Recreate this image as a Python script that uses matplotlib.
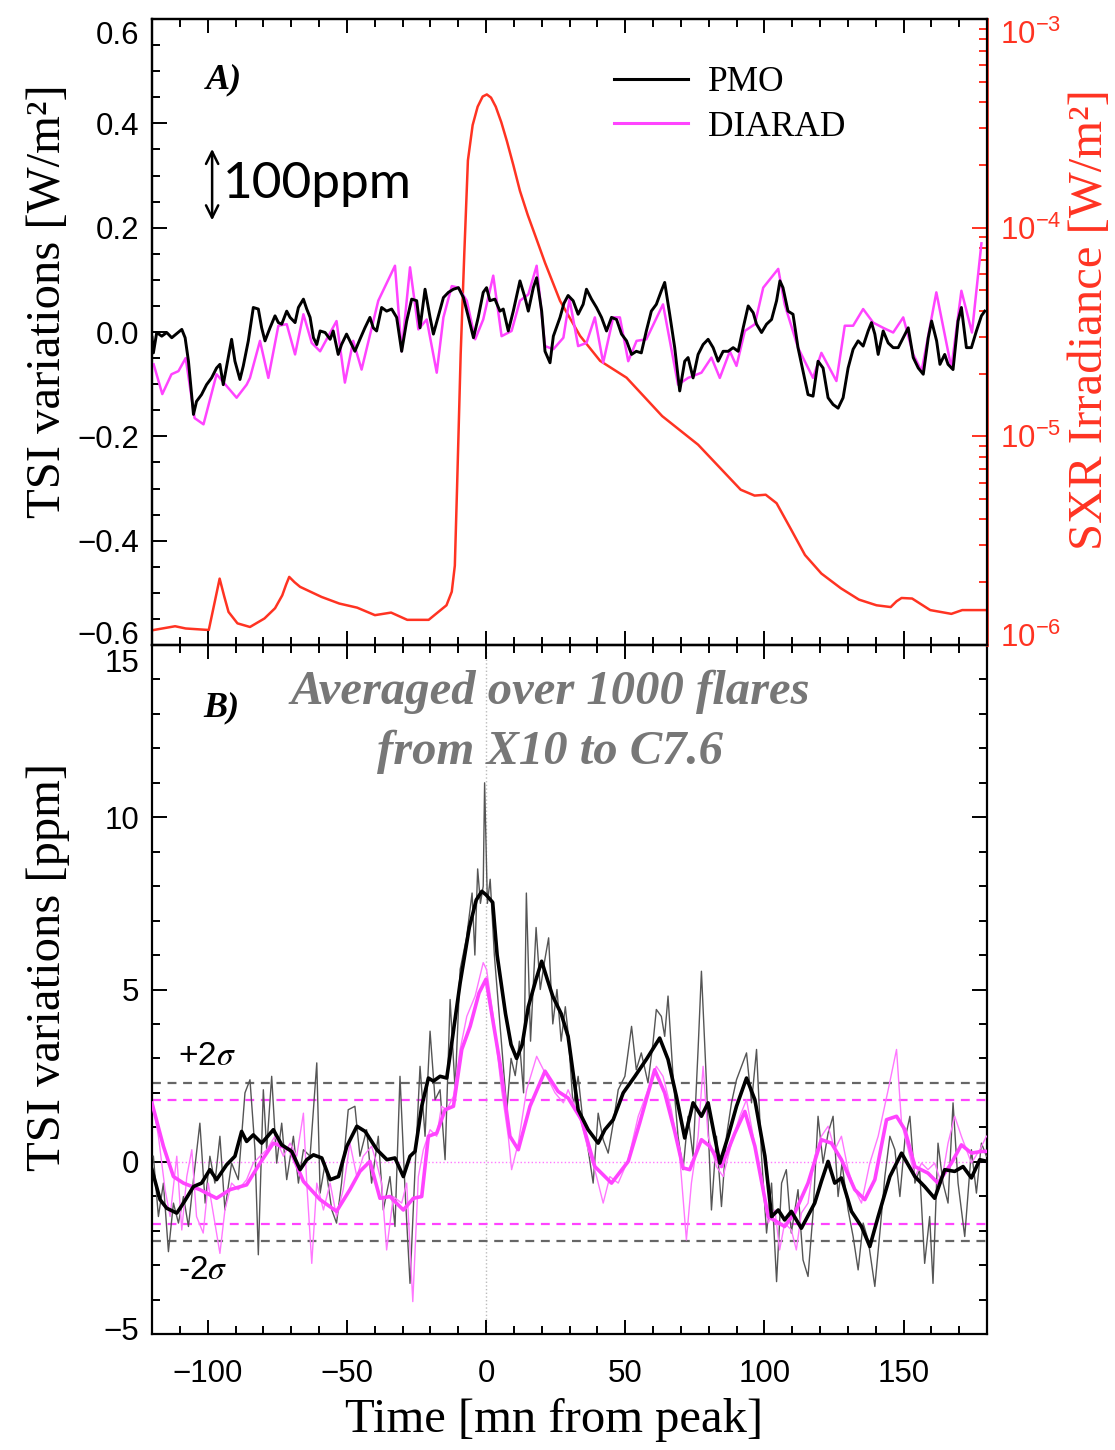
import matplotlib
matplotlib.use("Agg")
import matplotlib.pyplot as plt
import matplotlib.transforms as mtransforms
from matplotlib.ticker import MultipleLocator, LogLocator, NullFormatter, FuncFormatter
import numpy as np

plt.rcParams['font.family'] = ['Liberation Sans', 'DejaVu Sans']
plt.rcParams['mathtext.fontset'] = 'stix'

# ---------------- Panel A data ----------------
pmo_top_t = [-120, -119.5, -118.3, -116.5, -114.7, -112.9, -111.1, -109.3, -108.1, -106.9,
             -105.1, -104.0, -102.2, -100.4, -98.6, -96.8, -95.6, -94.4, -92.6, -91.4,
             -90.2, -88.4, -87.2, -85.4, -83.6, -81.8, -80.6, -79.4, -77.6, -75.8,
             -74.6, -73.4, -71.6, -70.4, -68.6, -67.4, -65.6, -64.4, -63.2, -62.0,
             -60.8, -59.6, -57.8, -56.0, -54.9, -53.1, -51.9, -50.1, -48.9, -47.1,
             -45.3, -43.5, -41.7, -40.5, -39.3, -37.5, -35.7, -33.9, -32.1, -30.3,
             -28.5, -26.7, -24.9, -23.7, -21.9, -20.1, -18.9, -17.1, -15.3, -13.5,
             -11.7, -9.9, -8.1, -6.3, -4.5, -2.8, -1.0, 0.2, 1.4, 3.2,
             5.0, 6.2, 8.0, 9.8, 12.2, 14.0, 15.2, 17.0, 18.2, 20.0,
             21.2, 23.0, 24.2, 26.6, 28.0, 29.5, 31.3, 33.1, 34.9, 36.1,
             37.9, 39.7, 41.5, 43.3, 45.1, 46.9, 48.7, 50.5, 52.3, 54.0,
             55.8, 57.6, 59.4, 61.2, 63.0, 64.2, 66.0, 67.8, 69.6, 71.4,
             72.6, 74.4, 76.2, 78.0, 79.8, 81.6, 83.4, 85.2, 87.0, 88.8,
             90.6, 92.4, 94.2, 96.0, 97.2, 99.0, 100.8, 102.6, 104.4, 105.6,
             106.7, 108.5, 110.3, 112.1, 113.9, 115.7, 117.5, 119.3, 121.1, 122.9,
             124.7, 126.5, 128.3, 130.1, 131.9, 133.7, 135.5, 137.3, 138.5, 139.7,
             140.9, 142.7, 144.5, 146.3, 148.1, 149.9, 151.7, 153.5, 155.3, 157.1,
             158.9, 160.1, 161.9, 163.1, 164.8, 166.0, 167.8, 169.6, 170.8, 172.6,
             174.4, 176.2, 178.0, 179.2]
pmo_top_v = [-0.010, -0.040, -0.001, -0.008, -0.001, -0.011, -0.003, 0.005, -0.011, -0.056,
             -0.158, -0.133, -0.120, -0.101, -0.088, -0.069, -0.062, -0.101, -0.049, -0.014,
             -0.056, -0.091, -0.065, -0.017, 0.047, 0.044, 0.008, -0.017, 0.008, 0.031,
             0.018, 0.015, 0.040, 0.028, 0.018, 0.047, 0.063, 0.044, 0.028, -0.011,
             -0.024, 0.002, -0.001, -0.014, 0.002, -0.043, -0.024, -0.004, -0.017, -0.037,
             -0.014, 0.008, 0.028, 0.008, 0.002, 0.047, 0.040, 0.044, 0.028, -0.037,
             0.021, 0.063, 0.060, 0.008, 0.082, 0.028, -0.004, 0.031, 0.066, 0.076,
             0.082, 0.085, 0.066, 0.028, -0.011, 0.028, 0.076, 0.085, 0.060, 0.063,
             0.040, 0.044, 0.002, 0.040, 0.098, 0.066, 0.040, 0.085, 0.104, 0.040,
             -0.037, -0.059, -0.008, 0.028, 0.055, 0.070, 0.060, 0.034, 0.053, 0.082,
             0.063, 0.047, 0.028, 0.002, 0.028, 0.024, -0.004, -0.017, -0.043, -0.037,
             -0.040, 0.002, 0.040, 0.053, 0.079, 0.095, 0.034, -0.030, -0.113, -0.056,
             -0.049, -0.088, -0.043, -0.024, -0.014, -0.030, -0.056, -0.037, -0.037, -0.030,
             -0.037, 0.008, 0.050, 0.037, 0.015, -0.001, 0.015, 0.024, 0.060, 0.098,
             0.085, 0.040, 0.034, -0.030, -0.075, -0.120, -0.123, -0.056, -0.069, -0.126,
             -0.139, -0.146, -0.126, -0.069, -0.033, -0.017, -0.027, 0.002, 0.018, -0.004,
             -0.043, 0.002, -0.021, -0.030, -0.030, -0.011, 0.008, -0.049, -0.069, -0.081,
             -0.011, 0.021, -0.017, -0.062, -0.043, -0.062, -0.072, 0.021, 0.047, -0.030,
             -0.030, 0.002, 0.031, 0.040]

diarad_top_t = [-119.4, -116.3, -113.0, -110.5, -107.9, -104.7, -101.5, -96.8, -89.6, -86.0,
                -84.8, -81.2, -78.2, -74.6, -71.6, -68.6, -65.6, -62.6, -59.6, -53.7,
                -50.7, -47.7, -44.7, -38.7, -32.7, -30.3, -27.3, -24.3, -21.3, -17.7,
                -15.3, -12.3, -9.9, -6.9, -3.9, -1.0, 2.6, 5.6, 9.2, 12.2,
                15.2, 18.2, 21.2, 24.2, 27.8, 30.0, 33.1, 36.1, 39.1, 42.1,
                45.7, 48.1, 51.1, 54.1, 57.6, 63.6, 69.0, 72.6, 77.4, 81.0,
                84.0, 87.6, 90.0, 93.0, 96.6, 99.6, 105.0, 107.3, 112.1, 117.5,
                120.5, 125.9, 128.9, 131.9, 135.5, 139.1, 142.7, 146.3, 149.9, 153.5,
                156.5, 161.8, 167.2, 170.8, 174.6, 178.0]
diarad_top_v = [-0.062, -0.119, -0.081, -0.075, -0.050, -0.165, -0.177, -0.081, -0.126, -0.101,
                -0.088, -0.017, -0.088, 0.012, 0.015, -0.043, 0.034, -0.021, -0.037, 0.021,
                -0.097, -0.017, -0.072, 0.060, 0.127, -0.037, 0.124, 0.005, 0.024, -0.078,
                0.028, 0.088, 0.085, 0.060, -0.014, 0.024, 0.108, -0.008, 0.002, 0.060,
                0.072, 0.127, -0.027, -0.033, -0.011, 0.063, -0.027, -0.021, 0.028, -0.059,
                0.028, 0.028, -0.056, -0.017, -0.014, 0.053, -0.101, -0.088, -0.078, -0.049,
                -0.088, -0.037, -0.065, 0.002, 0.015, 0.085, 0.121, 0.053, -0.030, -0.088,
                -0.040, -0.094, 0.012, 0.012, 0.044, 0.018, 0.008, -0.001, 0.028, -0.043,
                -0.075, 0.076, -0.069, 0.079, -0.001, 0.170]

sxr_t = [-119.4, -111.7, -107.9, -99.6, -97.5, -95.7, -94.0, -92.5, -89.3, -84.8,
         -79.6, -75.8, -73.2, -71.8, -70.7, -68.8, -66.8, -59.1, -52.7, -46.3,
         -39.9, -34.1, -28.3, -20.6, -14.2, -12.3, -11.2, -10.4, -9.1, -7.8,
         -6.5, -4.8, -3.0, -1.2, 0.3, 1.8, 3.5, 5.5, 7.5, 9.8,
         12.2, 15.0, 17.9, 21.2, 26.6, 33.8, 41.0, 50.5, 63.3, 76.2,
         91.5, 96.5, 100.5, 104.4, 109.5, 114.6, 120.5, 127.5, 134.0, 140.3,
         145.4, 147.5, 149.3, 153.1, 159.6, 167.2, 171.1, 178.1, 180.0]
sxr_v = [1.18e-6, 1.23e-6, 1.20e-6, 1.18e-6, 1.60e-6, 2.08e-6, 1.70e-6, 1.44e-6, 1.27e-6, 1.22e-6,
         1.34e-6, 1.50e-6, 1.73e-6, 1.95e-6, 2.12e-6, 2.00e-6, 1.90e-6, 1.70e-6, 1.58e-6, 1.51e-6,
         1.39e-6, 1.43e-6, 1.32e-6, 1.32e-6, 1.55e-6, 1.80e-6, 2.40e-6, 5.65e-6, 2.48e-5, 7.50e-5,
         2.10e-4, 3.10e-4, 3.80e-4, 4.25e-4, 4.35e-4, 4.20e-4, 3.80e-4, 3.20e-4, 2.60e-4, 2.00e-4,
         1.50e-4, 1.15e-4, 9.00e-5, 6.79e-5, 4.46e-5, 3.03e-5, 2.30e-5, 1.91e-5, 1.25e-5, 9.12e-6,
         5.55e-6, 5.20e-6, 5.25e-6, 4.78e-6, 3.60e-6, 2.70e-6, 2.20e-6, 1.87e-6, 1.65e-6, 1.55e-6,
         1.52e-6, 1.62e-6, 1.68e-6, 1.67e-6, 1.47e-6, 1.41e-6, 1.47e-6, 1.47e-6, 1.47e-6]

# ---------------- Panel B data ----------------
pmo_raw_t = [-119.5, -117.7, -115.9, -114.1, -112.3, -110.5, -108.7, -106.9, -105.1, -102.8,
             -100.9, -99.2, -97.4, -95.6, -93.8, -91.4, -89.0, -86.6, -84.8, -83.0,
             -81.8, -80.0, -78.8, -77.0, -75.2, -73.4, -71.6, -69.2, -67.4, -65.6,
             -63.2, -60.8, -59.6, -57.8, -55.4, -53.7, -51.9, -49.5, -47.1, -45.3,
             -42.9, -41.1, -38.7, -36.9, -34.5, -32.7, -30.9, -29.1, -27.3, -25.5,
             -23.7, -21.9, -20.1, -18.3, -16.5, -14.7, -12.9, -11.1, -9.3, -7.0,
             -5.0, -4.0, -3.0, -2.0, -1.0, -0.5, 0.5, 1.5, 3.0, 4.5,
             6.0, 7.5, 9.0, 10.5, 12.0, 13.5, 14.5, 16.0, 18.0, 19.5,
             21.0, 22.5, 24.0, 25.5, 27.0, 28.5, 29.5, 31.3, 33.1, 34.9,
             36.7, 38.5, 40.3, 42.1, 43.9, 45.7, 47.5, 49.9, 52.3, 54.0,
             55.8, 58.2, 60.0, 61.2, 63.0, 64.2, 65.4, 67.2, 69.0, 70.8,
             72.6, 74.4, 76.2, 77.4, 79.2, 81.0, 82.8, 84.6, 86.4, 88.2,
             90.0, 91.8, 93.6, 95.4, 97.2, 99.0, 100.8, 102.6, 104.4, 106.2,
             107.9, 109.7, 112.1, 113.9, 115.7, 117.5, 119.3, 121.1, 122.9, 124.7,
             126.5, 127.9, 130.1, 131.9, 133.7, 135.5, 137.3, 139.7, 141.5, 143.3,
             145.1, 146.9, 148.7, 150.5, 152.3, 154.1, 155.8, 157.6, 159.4, 160.6,
             162.4, 164.2, 166.0, 167.8, 169.6, 172.0, 174.4, 176.2, 178.0, 179.8]
pmo_raw_v = [0.16, -1.59, -0.62, -2.61, -1.20, -1.78, -1.01, -1.88, -0.52, 1.12,
             -1.20, 0.16, -0.62, 0.74, -1.40, -0.04, -0.52, 2.00, 2.38, 0.35,
             -2.70, 2.09, 0.35, 2.48, -0.04, 1.12, -0.52, 0.74, -0.62, 0.35,
             0.16, 2.87, -0.91, -0.04, -1.40, -1.78, -0.62, 1.51, 1.61, 0.16,
             0.93, -0.62, 0.74, -1.40, -0.43, -1.88, 2.48, -0.81, -3.53, -0.23,
             2.77, 0.74, 3.79, 1.80, 2.09, 0.06, 4.71, 2.09, 5.58, 6.50,
             7.80, 6.00, 8.50, 7.50, 8.00, 11.00, 7.50, 8.20, 6.00, 4.50,
             3.00, 1.50, 3.00, 2.50, 3.50, 2.00, 7.80, 3.50, 6.80, 5.00,
             5.80, 6.50, 4.00, 5.00, 3.50, 4.50, 3.74, 1.61, 2.48, 1.12,
             0.35, -0.62, 1.41, 0.64, 0.25, 1.12, 2.09, 2.48, 3.93, 2.67,
             3.16, 2.29, 3.45, 4.42, 4.22, 3.64, 4.81, 2.48, 0.74, -0.23,
             1.32, 0.16, 3.26, 5.53, 2.29, -1.40, 0.74, -1.30, 0.74, 1.71,
             2.38, 2.77, 3.16, 1.71, 3.26, 0.16, -2.07, -0.62, -3.48, -0.62,
             -0.23, -2.07, -0.81, -2.85, -3.33, -1.49, 1.32, -0.04, 0.83, 1.32,
             -1.01, -0.04, -1.40, -2.17, -3.14, -1.78, -2.27, -3.62, -2.07, -0.43,
             0.74, 0.35, -1.01, 0.64, 1.32, -0.62, -0.23, -2.95, -1.59, -3.53,
             0.54, -0.62, -1.20, 1.71, -0.62, -2.17, 0.35, -0.91, 0.54, 0.16]

pmo_smooth_t = [-120.0, -117.1, -114.7, -111.1, -108.7, -105.1, -102.2, -99.2, -96.8, -93.2,
                -90.2, -87.8, -86.0, -83.6, -80.6, -76.4, -73.4, -69.8, -66.8, -64.4,
                -62.0, -59.0, -56.0, -53.0, -50.0, -46.4, -43.4, -39.2, -35.6, -32.7,
                -29.7, -27.3, -25.5, -23.1, -20.7, -18.9, -16.5, -14.1, -12.3, -9.3,
                -6.0, -3.5, -1.5, 0.0, 2.4, 4.0, 7.0, 9.0, 11.0, 13.0,
                15.2, 18.0, 20.0, 22.0, 24.0, 27.0, 29.5, 33.1, 36.7, 40.3,
                42.7, 45.7, 49.3, 53.5, 57.6, 62.4, 65.4, 68.4, 71.4, 74.4,
                77.4, 79.8, 84.0, 87.0, 90.0, 93.6, 96.6, 100.2, 102.6, 105.0,
                107.3, 109.7, 113.3, 118.1, 120.5, 122.9, 125.3, 127.7, 131.3, 134.9,
                137.9, 140.9, 145.1, 149.3, 154.1, 157.6, 161.2, 164.8, 168.4, 171.4,
                174.4, 177.4, 180.0]
pmo_smooth_v = [-0.23, -1.10, -1.35, -1.49, -1.20, -0.72, -0.62, -0.23, -0.52, -0.09,
                0.16, 0.88, 0.59, 0.78, 0.54, 0.93, 0.49, 0.30, -0.23, 0.06,
                0.20, 0.11, -0.52, -0.43, 0.45, 1.03, 0.88, 0.35, 0.06, 0.11,
                -0.43, 0.16, 0.30, 1.61, 2.43, 2.34, 2.48, 2.43, 3.45, 5.19,
                6.80, 7.60, 7.85, 7.75, 7.53, 6.00, 4.30, 3.40, 3.00, 3.40,
                4.50, 5.30, 5.82, 5.30, 4.80, 4.30, 3.64, 1.51, 0.93, 0.54,
                0.93, 1.22, 2.00, 2.48, 2.97, 3.59, 2.97, 1.90, 0.69, 1.71,
                1.32, 1.71, -0.04, 0.74, 1.61, 2.43, 1.80, 0.16, -1.59, -1.40,
                -1.69, -1.44, -1.93, -1.20, -0.57, 0.01, -0.62, -0.47, -1.44, -1.88,
                -2.46, -1.59, -0.43, 0.25, -0.43, -0.72, -1.06, -0.23, -0.28, -0.14,
                -0.47, 0.06, 0.01]

diarad_raw_t = [-119.5, -117.7, -115.3, -113.5, -111.1, -109.3, -107.5, -105.7, -104.0, -101.6,
                -99.8, -97.4, -95.6, -93.8, -91.4, -89.0, -86.0, -83.6, -81.2, -78.8,
                -75.8, -72.8, -70.4, -68.0, -65.6, -64.4, -62.6, -60.8, -58.4, -56.0,
                -53.7, -51.3, -48.9, -46.4, -44.1, -41.1, -39.3, -37.5, -35.7, -33.3,
                -30.3, -28.5, -26.3, -24.3, -22.5, -20.1, -17.7, -16.0, -14.1, -11.7,
                -9.3, -6.9, -3.9, -1.0, 0.2, 2.6, 5.6, 8.0, 9.2, 11.6,
                14.6, 18.2, 21.2, 24.8, 27.8, 29.5, 31.9, 34.3, 36.7, 39.1,
                42.1, 44.5, 47.5, 51.1, 54.7, 58.2, 61.2, 63.6, 66.6, 69.6,
                72.0, 73.8, 76.2, 78.0, 79.8, 82.8, 85.2, 88.2, 91.2, 93.6,
                96.0, 99.0, 101.4, 103.8, 105.5, 107.3, 109.7, 111.5, 113.3, 115.7,
                118.1, 120.5, 122.9, 125.3, 127.7, 130.1, 132.5, 134.9, 137.9, 140.9,
                144.5, 147.5, 149.3, 151.7, 154.1, 156.5, 158.8, 161.2, 163.6, 166.0,
                168.4, 170.8, 174.4, 177.4, 179.8]
diarad_raw_v = [1.61, 0.74, -0.81, -1.59, 0.16, -1.98, -0.43, 0.35, -1.59, -2.07,
                -0.62, -1.78, -2.66, -1.40, -0.62, -0.81, -0.52, -0.04, 0.16, 0.35,
                0.74, 0.16, 0.54, 0.16, 1.41, -0.62, -2.95, -0.62, -1.40, -0.62,
                -1.59, -0.81, 0.54, -0.43, 0.16, 0.45, -0.04, -0.62, -2.56, -1.01,
                -1.20, -0.62, -4.06, -0.43, 0.35, 0.93, 0.74, 1.61, 1.51, 1.90,
                3.26, 4.22, 4.81, 5.78, 5.58, 4.22, 2.09, 0.74, -0.23, 0.54,
                2.09, 3.06, 2.58, 2.00, 1.71, 2.09, 1.61, 1.12, 0.35, -0.23,
                -1.20, -0.43, -0.62, 0.06, 1.32, 2.09, 2.77, 2.48, 1.51, 0.16,
                -2.27, -0.62, 0.74, 2.77, 0.74, -0.14, -0.43, 0.54, 1.32, 1.80,
                0.74, -0.62, -1.78, -1.40, -2.56, -1.78, -1.98, -2.56, -1.49, -1.20,
                0.16, 0.74, 1.03, 0.35, 0.74, -0.23, -0.81, -1.20, -0.04, 0.74,
                2.09, 3.26, 1.12, 0.35, -0.43, -0.04, -0.23, -0.04, -0.62, 0.54,
                1.32, 0.74, -0.04, 0.35, 0.74]

diarad_smooth_t = [-120.0, -115.9, -112.3, -108.7, -102.8, -96.8, -92.0, -86.0, -81.2, -76.4,
                   -70.4, -65.6, -59.6, -53.7, -48.9, -45.3, -41.7, -38.1, -34.5, -29.7,
                   -26.1, -23.1, -20.7, -17.7, -14.7, -11.7, -8.7, -5.7, -2.5, 0.0,
                   5.0, 8.6, 11.6, 15.8, 21.2, 25.9, 29.5, 34.3, 39.1, 45.1,
                   51.1, 55.2, 60.6, 64.2, 67.8, 70.8, 73.2, 77.4, 80.4, 84.6,
                   89.4, 93.0, 96.6, 101.4, 107.3, 110.9, 115.7, 120.5, 124.1, 127.7,
                   132.5, 136.1, 139.7, 143.9, 147.5, 150.5, 154.1, 158.8, 162.4, 167.2,
                   170.8, 174.4, 178.0, 180.0]
diarad_smooth_v = [1.70, 0.45, -0.43, -0.62, -0.81, -1.06, -0.81, -0.67, -0.04, 0.54,
                   0.35, -0.57, -1.10, -1.44, -0.81, -0.28, 0.01, -1.06, -1.01, -1.40,
                   -1.06, -1.01, 0.74, 0.83, 1.51, 1.61, 3.26, 3.93, 4.90, 5.30,
                   2.87, 0.74, 0.35, 1.61, 2.63, 2.04, 1.85, 1.22, -0.14, -0.62,
                   0.01, 1.12, 2.67, 2.00, 0.88, -0.18, -0.23, 0.64, 0.45, -0.14,
                   0.83, 1.46, 0.45, -1.59, -1.88, -1.49, -0.62, 0.64, 0.54, 0.06,
                   -0.81, -1.10, -0.52, 1.22, 1.32, 0.93, -0.14, -0.33, -0.62, -0.04,
                   0.49, 0.25, 0.30, 0.30]

pmo_sigma = 2.3
diarad_sigma = 1.8

x_ticks = [-100, -50, 0, 50, 100, 150]

# ---------------- Style ----------------
RED = '#FF3322'
MAG = '#FF44FF'
MAG_THIN = '#FF77FF'
SERIF = ['Liberation Serif', 'DejaVu Serif']

W, H = 1115, 1450
fig = plt.figure(figsize=(W / 100, H / 100), dpi=100)
L, R = 152, 987
ax1 = fig.add_axes([L / W, 1 - 645 / H, (R - L) / W, (645 - 19) / H])
ax2 = fig.add_axes([L / W, 1 - 1334 / H, (R - L) / W, (1334 - 645) / H])

for ax in (ax1, ax2):
    for s in ax.spines.values():
        s.set_linewidth(1.6)
    ax.set_xlim(-120, 180)
    ax.xaxis.set_major_locator(MultipleLocator(50))
    ax.xaxis.set_minor_locator(MultipleLocator(10))
    ax.tick_params(axis='x', which='both', direction='in', top=True, bottom=True,
                   width=1.4)
    ax.tick_params(axis='x', which='major', length=10)
    ax.tick_params(axis='x', which='minor', length=5.5)
    ax.tick_params(axis='y', which='both', direction='in', width=1.4,
                   labelsize=22.5, pad=9)
    ax.tick_params(axis='y', which='major', length=11)
    ax.tick_params(axis='y', which='minor', length=6)

# ---- Panel A ----
ax1.set_ylim(-0.6, 0.6)
ax1.yaxis.set_major_locator(MultipleLocator(0.2))
ax1.yaxis.set_minor_locator(MultipleLocator(0.05))
ax1.tick_params(axis='y', which='both', right=False)
ax1.tick_params(axis='x', labelbottom=False)
ax1.yaxis.set_major_formatter(FuncFormatter(
    lambda v, p: ('%.1f' % v).replace('-', '\u2212') if abs(v) > 1e-9 else '0.0'))

ax1r = ax1.twinx()
ax1r.set_yscale('log')
ax1r.set_ylim(1e-6, 1e-3)
ax1r.plot(sxr_t, sxr_v, color=RED, lw=1.8, zorder=1)
ax1r.tick_params(axis='y', which='both', direction='in', colors=RED, labelsize=22.5, pad=9,
                 width=1.4)
ax1r.tick_params(axis='y', which='major', length=11)
ax1r.tick_params(axis='y', which='minor', length=6)
ax1r.yaxis.set_major_locator(LogLocator(base=10, numticks=10))
ax1r.yaxis.set_minor_locator(LogLocator(base=10, subs=np.arange(2, 10), numticks=10))
ax1r.yaxis.set_minor_formatter(NullFormatter())
for k, s in ax1r.spines.items():
    s.set_linewidth(1.6)
ax1r.spines['right'].set_color(RED)
ax1r.spines['right'].set_linewidth(2.0)
ax1r.set_ylabel('SXR Irradiance [W/m\u00b2]', color=RED, family=SERIF, fontsize=35)
ax1r.yaxis.set_label_coords(1.097, 0.52)

ax1.set_zorder(ax1r.get_zorder() + 1)
ax1.patch.set_visible(False)

ax1.plot(pmo_top_t, pmo_top_v, color='black', lw=2.1, label='PMO', zorder=3)
ax1.plot(diarad_top_t, diarad_top_v, color=MAG, lw=1.8, label='DIARAD', zorder=2)
ax1.set_ylabel('TSI variations [W/m\u00b2]', family=SERIF, fontsize=35)
ax1.yaxis.set_label_coords(-0.098, 0.55)

leg = ax1.legend(loc='upper left', bbox_to_anchor=(0.553, 0.925), frameon=False,
                 prop={'family': SERIF, 'size': 25.5}, handlelength=2.1, handletextpad=0.55,
                 labelspacing=0.33, borderpad=0, borderaxespad=0)
for h in leg.get_lines():
    h.set_linewidth(2.2)

ax1.text(-100.5, 0.467, 'A)', family=SERIF, fontsize=26, fontweight='bold',
         style='italic', va='baseline', ha='left')
ax1.annotate('', xy=(-98.4, 0.214), xytext=(-98.4, 0.351),
             arrowprops=dict(arrowstyle='<->', lw=1.8, color='black',
                             mutation_scale=22, shrinkA=0, shrinkB=0))
ax1.text(-94.5, 0.283, '100ppm', family=['Lato', 'DejaVu Sans'], fontsize=37,
         va='center', ha='left')

# ---- Panel B ----
ax2.set_ylim(-5, 15)
ax2.yaxis.set_major_locator(MultipleLocator(5))
ax2.yaxis.set_minor_locator(MultipleLocator(1))
ax2.tick_params(axis='y', which='both', right=True)
ax2.tick_params(axis='x', which='major', labelsize=22.5, pad=18)
ax2.set_xticks(x_ticks)

ax2.axvline(0, color='#BBBBBB', lw=1.0, ls=':', zorder=1)
ax2.axhline(0, color=MAG_THIN, lw=1.0, ls=':', zorder=1)
for s in (pmo_sigma, -pmo_sigma):
    ax2.axhline(s, color='#666666', lw=1.6, ls=(0, (4, 3)), zorder=2)
for s in (diarad_sigma, -diarad_sigma):
    ax2.axhline(s, color=MAG, lw=1.6, ls=(0, (4, 3)), zorder=2)

ax2.plot(pmo_raw_t, pmo_raw_v, color='#555555', lw=1.0, zorder=3)
ax2.plot(diarad_raw_t, diarad_raw_v, color=MAG_THIN, lw=1.0, zorder=3)
ax2.plot(diarad_smooth_t, diarad_smooth_v, color=MAG, lw=2.6, zorder=4)
ax2.plot(pmo_smooth_t, pmo_smooth_v, color='black', lw=2.6, zorder=5)

ax2.set_ylabel('TSI variations [ppm]', family=SERIF, fontsize=35)
ax2.yaxis.set_label_coords(-0.098, 0.533)
ax2.set_xlabel('Time [mn from peak]', family=SERIF, fontsize=35)
ax2.xaxis.set_label_coords(0.481, -0.093)

ax2.text(-101.7, 12.94, 'B)', family=SERIF, fontsize=26, fontweight='bold',
         style='italic', va='baseline', ha='left')
ax2.text(23.0, 13.3, 'Averaged over 1000 flares', family=SERIF, fontsize=35,
         fontweight='bold', style='italic', color='#777777', ha='center', va='baseline')
ax2.text(23.0, 11.55, 'from X10 to C7.6', family=SERIF, fontsize=35,
         fontweight='bold', style='italic', color='#777777', ha='center', va='baseline')
ax2.text(-110.5, 3.05, r'+2$\sigma$', fontsize=24, ha='left', va='center')
ax2.text(-110.5, -3.15, r'-2$\sigma$', fontsize=24, ha='left', va='center')

# ---- shift end tick labels inward (as in the reference) ----
fig.canvas.draw()


def shift_labels(axis, shifts, side=1):
    for loc, tick in zip(axis.get_majorticklocs(), axis.get_major_ticks()):
        for val, dy in shifts:
            if np.isclose(loc, val, rtol=1e-6, atol=1e-9):
                lab = tick.label1 if side == 1 else tick.label2
                lab.set_transform(lab.get_transform() +
                                  mtransforms.ScaledTranslation(0, dy / 100.0,
                                                                fig.dpi_scale_trans))


shift_labels(ax1.yaxis, [(0.6, -13), (-0.6, 13)])
shift_labels(ax2.yaxis, [(15, -16), (-5, 6)])
shift_labels(ax1r.yaxis, [(1e-3, -13), (1e-6, 10)], side=2)

fig.savefig('out.png', dpi=100)
